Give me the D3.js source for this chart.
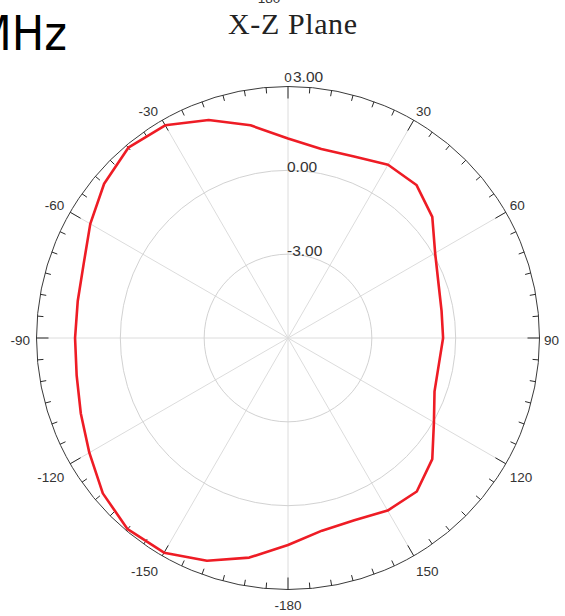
<!DOCTYPE html>
<html>
<head>
<meta charset="utf-8">
<script src="https://cdn.jsdelivr.net/npm/d3@7"></script>
<style>
  html, body { margin: 0; padding: 0; background: #fff; }
  svg { display: block; }
</style>
</head>
<body>
<svg id="chart" width="565" height="616"></svg>
<script>
// ---- data ----
const titleText = "X-Z Plane";
const freqText = "2450MHz";
const topFragment = "180";
const angles = [-180,-170,-160,-150,-140,-130,-120,-110,-100,-90,-80,-70,-60,-50,-40,-30,-20,-10,
                0,10,20,30,40,50,60,70,80,90,100,110,120,130,140,150,160,170];
const gainDb = [1.41,1.98,2.48,2.87,2.93,2.65,2.21,1.89,1.68,1.62,1.64,1.78,2.17,2.59,2.89,2.79,2.30,1.73,
                1.14,0.87,0.91,1.16,1.15,0.74,0.08,-0.27,-0.42,-0.45,-0.52,-0.42,0.03,0.74,1.17,1.13,0.94,1.00];
const ringValues = [-3, 0, 3];
const ringLabels = ["-3.00", "0.00", "3.00"];
const radialDomain = [-6, 3];
const spokeAngles = [0,30,60,90,120,150,180,210,240,270,300,330];
const angleTickValues = [0,30,60,90,120,150,180,-150,-120,-90,-60,-30];
const angleTickLabels = ["0","30","60","90","120","150","-180","-150","-120","-90","-60","-30"];

// ---- layout ----
const svg = d3.select("#chart");
const cx = 288, cy = 338, R = 251.5;
const rScale = d3.scaleLinear().domain(radialDomain).range([0, R]);
const aScale = d3.scaleLinear().domain([0, 360]).range([0, 2 * Math.PI]);
const pt = (deg, r) => {
  const a = aScale(deg);
  return [cx + r * Math.sin(a), cy - r * Math.cos(a)];
};

// big partial frequency label
svg.append("text")
  .attr("x", 67).attr("y", 50)
  .attr("text-anchor", "end")
  .style("font-family", "'Liberation Sans Narrow','DejaVu Sans Condensed','Roboto Condensed',sans-serif")
  .style("font-stretch", "condensed")
  .style("font-size", "48px")
  .attr("fill", "#000")
  .text(freqText);

// fragment at very top
svg.append("text")
  .attr("x", 269).attr("y", 3)
  .attr("text-anchor", "middle")
  .style("font-family", "'Liberation Sans',Arial,sans-serif")
  .style("font-size", "13.5px")
  .attr("fill", "#333")
  .text(topFragment);

// title
svg.append("text")
  .attr("x", 228).attr("y", 34)
  .attr("textLength", 129)
  .attr("lengthAdjust", "spacing")
  .style("font-family", "'Liberation Serif','DejaVu Serif',serif")
  .style("font-size", "30px")
  .attr("fill", "#222")
  .text(titleText);

const g = svg.append("g");

// spokes
g.selectAll("line.spoke").data(spokeAngles).join("line")
  .attr("class", "spoke")
  .attr("x1", cx).attr("y1", cy)
  .attr("x2", d => pt(d, R)[0]).attr("y2", d => pt(d, R)[1])
  .attr("stroke", "#dcdcdc").attr("stroke-width", 1);

// inner rings
g.selectAll("circle.ring").data(ringValues.filter(v => v < radialDomain[1])).join("circle")
  .attr("class", "ring")
  .attr("cx", cx).attr("cy", cy)
  .attr("r", d => rScale(d))
  .attr("fill", "none").attr("stroke", "#d2d2d2").attr("stroke-width", 1);

// outer ring
g.append("circle")
  .attr("cx", cx).attr("cy", cy).attr("r", R)
  .attr("fill", "none").attr("stroke", "#3a3a3a").attr("stroke-width", 1);

// ticks every 5 degrees
const tickDegs = d3.range(0, 360, 5);
g.selectAll("line.tick").data(tickDegs).join("line")
  .attr("class", "tick")
  .attr("x1", d => pt(d, R)[0]).attr("y1", d => pt(d, R)[1])
  .attr("x2", d => pt(d, R - (d % 30 === 0 ? 12 : 6))[0])
  .attr("y2", d => pt(d, R - (d % 30 === 0 ? 12 : 6))[1])
  .attr("stroke", "#2a2a2a").attr("stroke-width", 1);

// radial labels
g.selectAll("text.rlab").data(ringValues).join("text")
  .attr("class", "rlab")
  .attr("x", d => cx + (d === radialDomain[1] ? 5 : -1))
  .attr("y", d => d === radialDomain[1] ? cy - R - 4.5 : cy - rScale(d) + 2)
  .style("font-family", "'Liberation Sans',Arial,sans-serif")
  .style("font-size", "15.5px")
  .attr("fill", "#333")
  .text((d, i) => ringLabels[i]);

// angle labels
const labR = R + 4.5;
g.selectAll("text.alab").data(angleTickValues).join("text")
  .attr("class", "alab")
  .each(function(d, i) {
    const a = aScale(d);
    const s = Math.sin(a), c = Math.cos(a);
    const [x, y] = pt(d, labR);
    let anchor = "middle", xx = x, yy;
    if (s > 0.01) { anchor = "start"; }
    else if (s < -0.01) { anchor = "end"; xx = x - 2; }
    if (c > 0.01) yy = y;
    else if (c < -0.01) yy = y + 16;
    else yy = y + 7;
    d3.select(this).attr("x", xx).attr("y", yy).attr("text-anchor", anchor).text(angleTickLabels[i]);
  })
  .style("font-family", "'Liberation Sans',Arial,sans-serif")
  .style("font-size", "13.5px")
  .attr("fill", "#333");

// pattern
const line = d3.lineRadial()
  .angle(d => aScale(d[0]))
  .radius(d => rScale(d[1]))
  .curve(d3.curveLinearClosed);
g.append("path")
  .datum(angles.map((a, i) => [a, gainDb[i]]))
  .attr("transform", `translate(${cx},${cy})`)
  .attr("d", line)
  .attr("fill", "none")
  .attr("stroke", "#ee1c25")
  .attr("stroke-width", 2.6)
  .attr("stroke-linejoin", "round");
</script>
</body>
</html>
